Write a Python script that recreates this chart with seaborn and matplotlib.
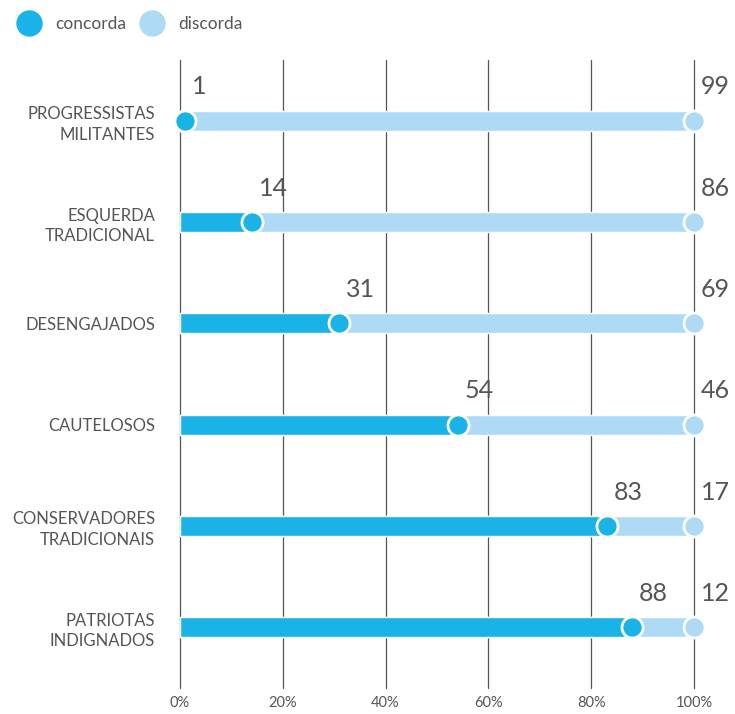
import matplotlib
matplotlib.use("Agg")
import matplotlib.pyplot as plt
import seaborn as sns
import pandas as pd
from matplotlib.lines import Line2D

categories = ["PROGRESSISTAS\nMILITANTES", "ESQUERDA\nTRADICIONAL", "DESENGAJADOS",
              "CAUTELOSOS", "CONSERVADORES\nTRADICIONAIS", "PATRIOTAS\nINDIGNADOS"]
concorda = [1, 14, 31, 54, 83, 88]
discorda = [99, 86, 69, 46, 17, 12]
xticks = [0, 20, 40, 60, 80, 100]
xticklabels = ["0%", "20%", "40%", "60%", "80%", "100%"]

C_DARK = "#1AB3E8"
C_LIGHT = "#AEDAF5"
GRID = "#555555"
TXT = "#555555"

sns.set_theme(style="white")
plt.rcParams["font.family"] = ["Lato", "DejaVu Sans"]

df = pd.DataFrame({"cat": categories, "concorda": concorda, "discorda": discorda})
df["total"] = df["concorda"] + df["discorda"]

fig = plt.figure(figsize=(7.35, 7.14), dpi=100)
ax = fig.add_axes([180 / 735, 1 - 688 / 714, 514 / 735, (688 - 60) / 714])

sns.barplot(data=df, y="cat", x="total", color=C_LIGHT, width=0.2, ax=ax,
            orient="h", saturation=1, zorder=2)
sns.barplot(data=df, y="cat", x="concorda", color=C_DARK, width=0.2, ax=ax,
            orient="h", saturation=1, zorder=3)

ypos = list(range(len(categories)))
sns.scatterplot(x=df["concorda"], y=ypos, color=C_DARK, s=230, edgecolor="white",
                linewidth=2, ax=ax, zorder=5, clip_on=False, legend=False)
sns.scatterplot(x=df["total"], y=ypos, color=C_LIGHT, s=230, edgecolor="white",
                linewidth=2, ax=ax, zorder=4, clip_on=False, legend=False)

for i in range(len(categories)):
    ax.text(df["concorda"][i] + 1.3, i - 0.22, str(concorda[i]), fontsize=18,
            color=TXT, ha="left", va="bottom")
    ax.text(df["total"][i] + 1.3, i - 0.22, str(discorda[i]), fontsize=18,
            color=TXT, ha="left", va="bottom")

ax.set_xlim(0, 100)
ax.set_ylim(5.6, -0.6)
ax.set_xticks(xticks)
ax.set_xticklabels(xticklabels, fontsize=10.5, color=TXT)
ax.set_yticks(ypos)
ax.set_yticklabels(categories, fontsize=12, color=TXT, ha="right",
                   multialignment="right", linespacing=1.35)
ax.tick_params(axis="x", length=0, pad=6)
ax.tick_params(axis="y", length=0, pad=18)
ax.set_xlabel("")
ax.set_ylabel("")
for s in ax.spines.values():
    s.set_visible(False)
for x in xticks:
    ax.axvline(x, color=GRID, linewidth=0.9, zorder=1, clip_on=False)

handles = [Line2D([], [], marker="o", linestyle="", markersize=19, color=C_DARK, markeredgewidth=0),
           Line2D([], [], marker="o", linestyle="", markersize=19, color=C_LIGHT, markeredgewidth=0)]
fig.legend(handles, ["concorda", "discorda"], loc="upper left", bbox_to_anchor=(-0.001, 0.994),
           ncol=2, frameon=False, fontsize=12.5, labelcolor=TXT,
           handletextpad=0.5, columnspacing=0.5, borderaxespad=0.3)

fig.savefig("out.png", dpi=100)
